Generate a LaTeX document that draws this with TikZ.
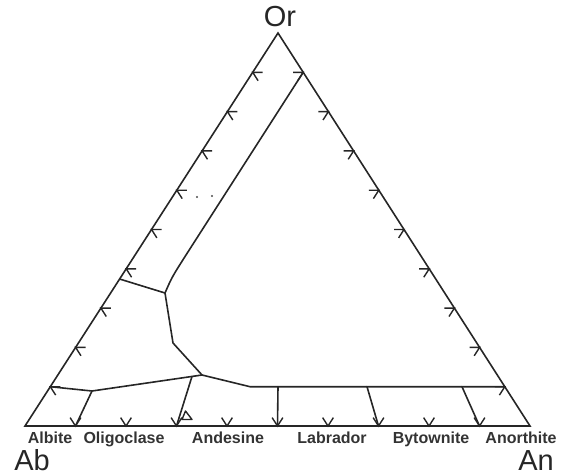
\documentclass[tikz,border=0pt]{standalone}
\usepackage{fontspec}
\setmainfont{Liberation Sans}
\usetikzlibrary{calc}
\begin{document}
\begin{tikzpicture}[x=1pt,y=-1pt,
  edge/.style={line width=1.6pt, draw=black!85, line join=round, line cap=round},
  chev/.style={line width=1.4pt, draw=black!85, line join=miter},
  mineral/.style={font=\fontsize{16}{18}\selectfont\bfseries, text=black!80, anchor=base, inner sep=0pt},
  corner/.style={font=\fontsize{29}{32}\selectfont, text=black!85, anchor=base, inner sep=0pt}]
\useasboundingbox (0,0) rectangle (570,476);
% corners
\coordinate (Ab) at (25,426);
\coordinate (An) at (530,426);
\coordinate (Or) at (278,33);
\draw[edge, line join=miter] (Ab) -- (An) -- (Or) -- cycle;
% chevrons
\foreach \k in {1,...,9} {
  \coordinate (lc\k) at ($(Ab)!\k/10!(Or)$);
  \coordinate (rc\k) at ($(An)!\k/10!(Or)$);
  \coordinate (bc\k) at ($(Ab)!\k/10!(An)$);
  \draw[chev] ($(lc\k)+(10,0)$) -- (lc\k) -- ++(5.4,8.4);
  \draw[chev] ($(rc\k)+(-10,0)$) -- (rc\k) -- ++(-5.4,8.4);
  \draw[chev] ($(bc\k)+(-5.4,-8.4)$) -- (bc\k) -- ++(5.4,-8.4);
}
% interior boundaries
\coordinate (u1) at (186,255);
\coordinate (j1) at (165,293);
\coordinate (l1) at ($(Ab)!0.374!(Or)$);
\coordinate (m1) at (173,343);
\coordinate (j2) at (202,375);
\coordinate (k1) at (92,391);
\coordinate (j3) at ($(k1)!0.909!(j2)$);
\coordinate (h1) at (250,386.7);
\coordinate (v5) at (278,386.7);
\coordinate (v7) at (367,386.7);
\coordinate (v9) at (462,386.7);
\draw[edge] (rc9) -- (u1) .. controls (172,277) .. (j1) -- (m1) -- (j2);
\draw[edge] (l1) -- (j1);
\draw[edge] (lc1) -- (k1) -- (j2) -- (h1) -- (rc1);
\draw[edge] (k1) -- (bc1);
\draw[edge] (j3) -- (bc3);
\draw[edge] (v5) -- (bc5);
\draw[edge] (v7) -- (bc7);
\draw[edge] (v9) -- (bc9);
% small triangle and dots
\draw[chev, line join=round] (182,419.5) -- (185.5,411) -- (192,419.5) -- cycle;
\fill[black!70] (197,197) circle (1.1);
\fill[black!70] (212,196) circle (1.1);
% labels
\node[corner] (or) at (280,27) {Or};
\node[corner] (ab) at (32,470) {Ab};
\node[corner] (an) at (536,470) {An};
\node[mineral] (albite) at (50,443) {Albite};
\node[mineral] (oligo) at (124,443) {Oligoclase};
\node[mineral] (andes) at (228,443) {Andesine};
\node[mineral] (labr) at (332,443) {Labrador};
\node[mineral] (bytow) at (431,443) {Bytownite};
\node[mineral] (anor) at (521,443) {Anorthite};
\end{tikzpicture}
\end{document}
